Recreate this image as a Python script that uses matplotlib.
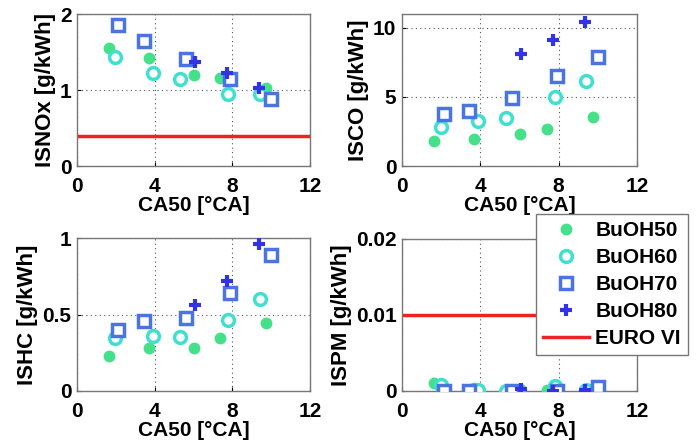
import matplotlib
matplotlib.use("Agg")
import matplotlib.pyplot as plt
from matplotlib.lines import Line2D

plt.rcParams['font.family'] = ['Liberation Sans', 'DejaVu Sans']
plt.rcParams['font.weight'] = 'bold'

# CA50 positions [°CA]
x50 = [1.65, 3.7, 6.0, 7.38, 9.75]
x60 = [1.98, 3.9, 5.33, 7.8, 9.4]
x70 = [2.12, 3.44, 5.6, 7.9, 10.0]
x80 = [6.08, 7.7, 9.37]

# ISNOx [g/kWh]
nox50 = [1.556, 1.415, 1.20, 1.16, 1.03]
nox60 = [1.43, 1.23, 1.14, 0.95, 0.945]
nox70 = [1.855, 1.65, 1.41, 1.14, 0.88]
nox80 = [1.37, 1.22, 1.02]
nox_euro = 0.4

# ISCO [g/kWh]
co50 = [1.79, 1.93, 2.29, 2.68, 3.55]
co60 = [2.83, 3.26, 3.50, 5.0, 6.14]
co70 = [3.79, 3.99, 4.95, 6.50, 7.90]
co80 = [8.07, 9.15, 10.43]

# ISHC [g/kWh]
hc50 = [0.23, 0.284, 0.282, 0.348, 0.442]
hc60 = [0.344, 0.361, 0.354, 0.464, 0.602]
hc70 = [0.398, 0.46, 0.475, 0.639, 0.886]
hc80 = [0.562, 0.722, 0.96]

# ISPM [g/kWh]
pm50 = [0.0011, 0.0004, 0.0002, 0.0001, 0.0003]
pm60 = [0.0008, 0.0001, 0.0, 0.0007, 0.0001]
pm70 = [0.0, 0.0, 0.0, 0.0, 0.0005]
pm80 = [0.0002, 0.0, 0.0001]
pm_euro = 0.01

series_names = ['BuOH50', 'BuOH60', 'BuOH70', 'BuOH80']
euro_name = 'EURO VI'

c50 = '#44e08a'
c60 = '#40e0d0'
c70 = '#4a74e0'
c80 = '#3333e6'
cred = '#ee2222'

FS = 15

W, H = 696, 445
fig = plt.figure(figsize=(W / 100, H / 100), dpi=100)


def add_ax(l, r, t, b):
    return fig.add_axes([l / W, 1 - b / H, (r - l) / W, (b - t) / H])


axes_px = [(77, 310, 14, 166), (402, 637, 14, 166),
           (77, 310, 238, 391), (402, 637, 239, 391)]

panels = [
    ('ISNOx [g/kWh]', (nox50, nox60, nox70, nox80), (0, 2), [0, 1, 2], ['0', '1', '2'], nox_euro),
    ('ISCO [g/kWh]', (co50, co60, co70, co80), (0, 11), [0, 5, 10], ['0', '5', '10'], None),
    ('ISHC [g/kWh]', (hc50, hc60, hc70, hc80), (0, 1), [0, 0.5, 1], ['0', '0.5', '1'], None),
    ('ISPM [g/kWh]', (pm50, pm60, pm70, pm80), (0, 0.02), [0, 0.01, 0.02], ['0', '0.01', '0.02'], pm_euro),
]

xs = (x50, x60, x70, x80)
for (l, r, t, b), (ylab, ys, ylim, yt, ytl, euro) in zip(axes_px, panels):
    ax = add_ax(l, r, t, b)
    if euro is not None:
        ax.axhline(euro, color=cred, lw=2.5, zorder=2)
    ax.plot(xs[0], ys[0], 'o', color=c50, ms=7.5, mec=c50, zorder=3)
    ax.plot(xs[1], ys[1], 'o', mfc='white', mec=c60, mew=2.5, ms=8.5, zorder=3)
    ax.plot(xs[2], ys[2], 's', mfc='white', mec=c70, mew=2.5, ms=8, zorder=3)
    ax.plot(xs[3], ys[3], '+', color=c80, mew=3, ms=9, zorder=4)
    ax.set_xlim(0, 12)
    ax.set_ylim(*ylim)
    ax.set_xticks([0, 4, 8, 12])
    ax.set_xticklabels(['0', '4', '8', '12'])
    ax.set_yticks(yt)
    ax.set_yticklabels(ytl)
    ax.tick_params(direction='in', length=3, labelsize=FS, colors='black')
    ax.tick_params(axis='x', pad=8)
    ax.tick_params(axis='y', pad=4)
    for lab in ax.get_xticklabels() + ax.get_yticklabels():
        lab.set_fontweight('bold')
    ax.grid(True, ls=(0, (1, 3)), color='#555555', lw=0.8)
    for s in ax.spines.values():
        s.set_color('#777777')
        s.set_linewidth(1.0)
    ax.set_xlabel('CA50 [°CA]', fontsize=FS, fontweight='bold', labelpad=0)
    ax.set_ylabel(ylab, fontsize=16, fontweight='bold', labelpad=3)

handles = [
    Line2D([], [], ls='none', marker='o', color=c50, mec=c50, ms=7.5),
    Line2D([], [], ls='none', marker='o', mfc='white', mec=c60, mew=2.5, ms=8.5),
    Line2D([], [], ls='none', marker='s', mfc='white', mec=c70, mew=2.5, ms=8),
    Line2D([], [], ls='none', marker='+', color=c80, mew=3, ms=9),
    Line2D([], [], color=cred, lw=2.5),
]
leg = fig.legend(handles, series_names + [euro_name], loc='upper left',
                 bbox_to_anchor=(536 / W, 1 - 214 / H), fancybox=False,
                 framealpha=1, edgecolor='#777777',
                 prop={'weight': 'bold', 'size': FS}, handlelength=2.2,
                 labelspacing=0.38, borderpad=0.35, handletextpad=0.3,
                 borderaxespad=0)
leg.get_frame().set_linewidth(1.0)

fig.savefig('out.png', dpi=100)
